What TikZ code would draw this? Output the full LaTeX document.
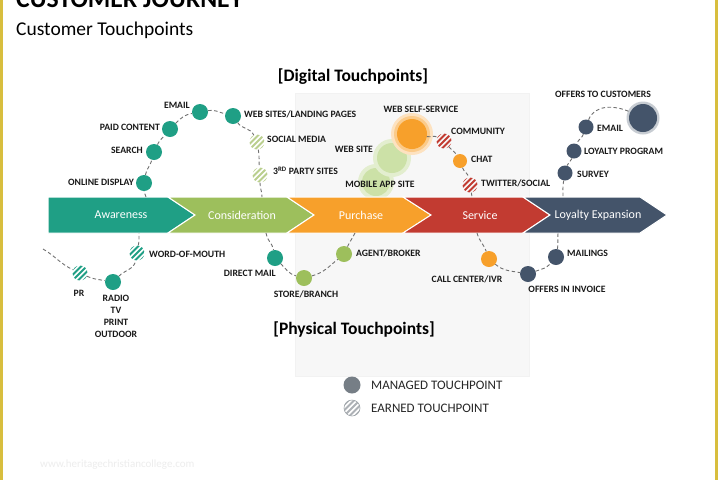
\documentclass[tikz,border=0pt]{standalone}
\usepackage{fontspec}
\setmainfont{Carlito}
\definecolor{cteal}{HTML}{1F9F85}
\definecolor{cgreen}{HTML}{9DBF5C}
\definecolor{corange}{HTML}{F7A02B}
\definecolor{cred}{HTML}{C23B31}
\definecolor{cslate}{HTML}{44546A}
\definecolor{cpale}{HTML}{BACF8E}
\definecolor{cglow}{HTML}{CCE1A7}
\definecolor{cyel}{HTML}{D8BE3E}
\definecolor{cdash}{HTML}{707070}
\definecolor{cpanel}{HTML}{F7F7F7}
\definecolor{cgray}{HTML}{767E86}
\begin{document}
\begin{tikzpicture}[x=1pt,y=-1pt,
 dot/.style={circle,inner sep=0pt,minimum size=16pt,fill=#1},
 hatch/.style={circle,inner sep=0pt,minimum size=15pt,path picture={\foreach \k in {-28.5,-23,...,5}{\draw[#1,line width=2pt] ([xshift=\k pt,yshift=-12pt]path picture bounding box.center) -- ++(24pt,24pt);}}},
 lbl/.style={font=\bfseries\fontsize{9.7}{11}\selectfont,inner sep=0pt,text=black!90},
 band/.style={draw=white,line width=1pt},
 bandtxt/.style={font=\fontsize{12}{14}\selectfont,text=white,inner sep=0pt},
 conn/.style={draw=cdash,line width=0.9pt,dash pattern=on 3.5pt off 2.5pt},
 sect/.style={font=\bfseries\fontsize{17.5}{20}\selectfont,inner sep=0pt,anchor=base},
 leg/.style={font=\fontsize{13}{15}\selectfont,inner sep=0pt,anchor=west,text=black!85},
]
\useasboundingbox (0,0) rectangle (720,480);
\fill[white] (0,0) rectangle (720,480);
\fill[cyel] (0,0) rectangle (3,480);
\fill[cyel] (715,0) rectangle (718,480);

% title
\node[anchor=base west,inner sep=0pt,font=\bfseries\fontsize{25.7}{30}\selectfont] (title) at (16,7) {CUSTOMER JOURNEY};
\node[anchor=base west,inner sep=0pt,font=\fontsize{19.5}{22}\selectfont] (sub) at (16,35.5) {Customer Touchpoints};
\node[anchor=west,inner sep=0pt,text=black!7,font=\fontsize{11}{13}\selectfont] (wm) at (40,465) {www.heritagechristiancollege.com};

% panel
\path[fill=cpanel,draw=black!5] (295,93) rectangle (529,376);

\node[sect] (digital) at (353,81) {[Digital Touchpoints]};
\node[sect] (physical) at (354,334.5) {[Physical Touchpoints]};

% glows (digital)
\fill[cglow!55] (376,182) circle (18pt);
\node[dot=cglow,minimum size=28pt] (mobile) at (376,182) {};
\fill[cglow!55] (392,158) circle (19pt);
\node[dot=cglow,minimum size=30pt] (website) at (392,158) {};
\fill[corange!30] (412,134) circle (21pt);
\fill[corange!55] (412,134) circle (18pt);
\node[dot=corange,minimum size=30pt] (wss) at (412,134) {};

% band
\path[band,fill=cteal] (48,197) -- (168,197) -- (195,215) -- (168,233) -- (48,233) -- cycle;
\path[band,fill=cgreen] (168,197) -- (287,197) -- (314,215) -- (287,233) -- (168,233) -- (195,215) -- cycle;
\path[band,fill=corange] (287,197) -- (403,197) -- (431,215) -- (403,233) -- (287,233) -- (314,215) -- cycle;
\path[band,fill=cred] (403,197) -- (523,197) -- (550,215) -- (523,233) -- (403,233) -- (431,215) -- cycle;
\path[band,fill=cslate] (523,197) -- (640,197) -- (667,215) -- (640,233) -- (523,233) -- (550,215) -- cycle;
\node[bandtxt] (t-aw) at (121,215) {Awareness};
\node[bandtxt] (t-co) at (242,215) {Consideration};
\node[bandtxt] (t-pu) at (361,215) {Purchase};
\node[bandtxt] (t-se) at (480,215) {Service};
\node[bandtxt] (t-lo) at (598,215) {Loyalty Expansion};

% anchor points on band
\coordinate (a1) at (146,197);
\coordinate (a2) at (262,197);
\coordinate (a3) at (472,197);
\coordinate (a4) at (563,197);
\coordinate (b0) at (43,249);
\coordinate (b1) at (139,233);
\coordinate (b2) at (266,233);
\coordinate (b3) at (355,233);
\coordinate (b4) at (477,233);
\coordinate (b5) at (558,233);

% awareness / consideration top
\node[dot=cteal] (online) at (144,183) {};
\node[dot=cteal] (search) at (154,152) {};
\node[dot=cteal] (paid) at (170,129) {};
\node[dot=cteal] (email1) at (200,112) {};
\node[dot=cteal] (websites) at (233,116) {};
\node[hatch=cpale] (social) at (257,142) {};
\node[hatch=cpale] (third) at (260,175) {};
\node[lbl,anchor=east] (l-online) at (134,182) {ONLINE DISPLAY};
\node[lbl,anchor=east] (l-search) at (143,150) {SEARCH};
\node[lbl,anchor=east] (l-paid) at (160,127) {PAID CONTENT};
\node[lbl,anchor=east] (l-email1) at (190,105) {EMAIL};
\node[lbl,anchor=west] (l-websites) at (244,114) {WEB SITES/LANDING PAGES};
\node[lbl,anchor=west] (l-social) at (267,139) {SOCIAL MEDIA};
\node[lbl,anchor=west] (l-third) at (273,171) {3\textsuperscript{RD} PARTY SITES};

% digital
\node[hatch=cred] (comm) at (444,141) {};
\node[dot=corange,minimum size=14pt] (chat) at (460,161) {};
\node[hatch=cred] (twitter) at (470,185) {};
\node[lbl] (l-wss) at (421,109) {WEB SELF-SERVICE};
\node[lbl,anchor=east] (l-website) at (373,149) {WEB SITE};
\node[lbl] (l-mobile) at (380,184) {MOBILE APP SITE};
\node[lbl,anchor=west] (l-comm) at (451,131) {COMMUNITY};
\node[lbl,anchor=west] (l-chat) at (471,159) {CHAT};
\node[lbl,anchor=west] (l-twitter) at (481,183) {TWITTER/SOCIAL};

% loyalty top
\fill[cslate!30] (643,118) circle (16.5pt);
\node[dot=cslate,minimum size=28pt] (offers) at (643,118) {};
\node[dot=cslate,minimum size=15pt] (email2) at (586,127) {};
\node[dot=cslate,minimum size=15pt] (loyal) at (574,151) {};
\node[dot=cslate,minimum size=15pt] (survey) at (565,173) {};
\node[lbl] (l-offers) at (603,94) {OFFERS TO CUSTOMERS};
\node[lbl,anchor=west] (l-email2) at (597,128) {EMAIL};
\node[lbl,anchor=west] (l-loyal) at (584,151) {LOYALTY PROGRAM};
\node[lbl,anchor=west] (l-survey) at (577,174) {SURVEY};

% bottom left
\node[hatch=cteal] (pr) at (80,273) {};
\node[dot=cteal] (radio) at (113,282) {};
\node[hatch=cteal] (wom) at (137,253) {};
\node[lbl] (l-pr) at (79,293) {PR};
\node[lbl,align=center,font=\bfseries\fontsize{9.7}{12}\selectfont] (l-radio) at (116,316) {RADIO\\TV\\PRINT\\OUTDOOR};
\node[lbl,anchor=west] (l-wom) at (149,254) {WORD-OF-MOUTH};

% physical
\node[dot=cteal] (dm) at (275,258) {};
\node[dot=cgreen] (store) at (304,278) {};
\node[dot=cgreen] (agent) at (344,254) {};
\node[lbl,anchor=east] (l-dm) at (276,273) {DIRECT MAIL};
\node[lbl] (l-store) at (306,294) {STORE/BRANCH};
\node[lbl,anchor=west] (l-agent) at (356,253) {AGENT/BROKER};

% service bottom
\node[dot=corange] (call) at (489,259) {};
\node[dot=cslate] (oin) at (528,274) {};
\node[dot=cslate] (mailings) at (556,257) {};
\node[lbl] (l-call) at (467,279) {CALL CENTER/IVR};
\node[lbl] (l-oin) at (567,289) {OFFERS IN INVOICE};
\node[lbl,anchor=west] (l-mail) at (567,253) {MAILINGS};

% connectors
\draw[conn] (a1) to[out=90,in=-90] (online);
\draw[conn] (online) to[out=80,in=-105] (search);
\draw[conn] (search) to[out=65,in=-130] (paid);
\draw[conn] (paid) to[out=45,in=-170] (email1);
\draw[conn] (email1) to[out=10,in=165] (websites);
\draw[conn] (websites) to[out=-55,in=115] (social);
\draw[conn] (social) to[out=-80,in=95] (third);
\draw[conn] (third) to[out=-90,in=90] (a2);

\draw[conn] (wss) to[out=-10,in=150] (comm);
\draw[conn] (comm) to[out=-50,in=120] (chat);
\draw[conn] (chat) to[out=-70,in=100] (twitter);
\draw[conn] (twitter) to[out=-80,in=90] (a3);

\draw[conn] (email2) to[out=70,in=155] (offers);
\draw[conn] (email2) to[out=-110,in=70] (loyal);
\draw[conn] (loyal) to[out=-105,in=75] (survey);
\draw[conn] (survey) to[out=-100,in=90] (a4);

\draw[conn] (b0) to[out=-30,in=155] (pr);
\draw[conn] (pr) to[out=-25,in=170] (radio);
\draw[conn] (radio) to[out=45,in=-100] (wom);
\draw[conn] (wom) to[out=80,in=-90] (b1);

\draw[conn] (b2) to[out=-85,in=100] (dm);
\draw[conn] (dm) to[out=-45,in=165] (store);
\draw[conn] (store) to[out=15,in=-140] (agent);
\draw[conn] (agent) to[out=65,in=-115] (b3);

\draw[conn] (b4) to[out=-75,in=110] (call);
\draw[conn] (call) to[out=-40,in=170] (oin);
\draw[conn] (oin) to[out=20,in=-130] (mailings);
\draw[conn] (mailings) to[out=80,in=-95] (b5);

% legend
\node[dot=cgray,minimum size=17pt] (managed) at (352,385) {};
\node[hatch=cgray!60,draw=cgray!70,line width=0.6pt,minimum size=16pt] (earned) at (352,408) {};
\node[leg] (l-managed) at (371,385) {MANAGED TOUCHPOINT};
\node[leg] (l-earned) at (371,408) {EARNED TOUCHPOINT};
\end{tikzpicture}
\end{document}
